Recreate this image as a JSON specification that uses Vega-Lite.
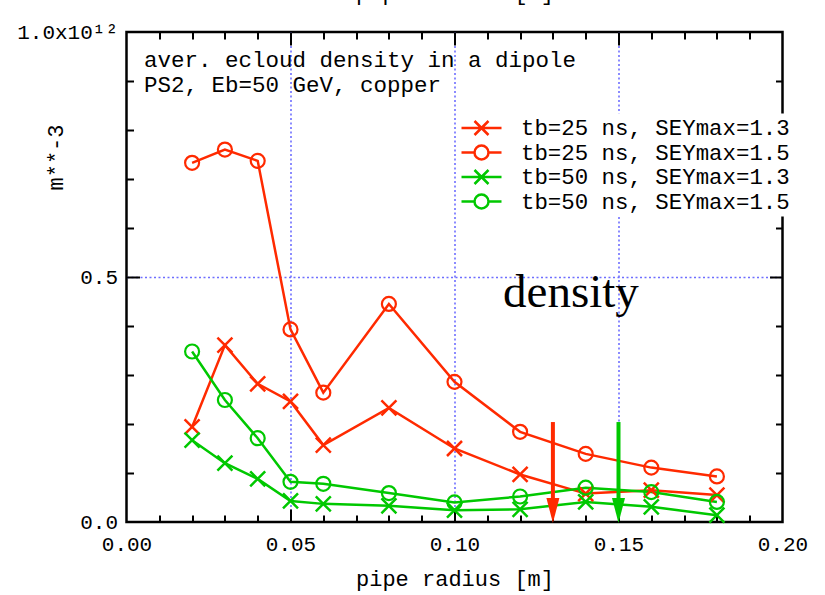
{
  "$schema": "https://vega.github.io/schema/vega-lite/v6.json",
  "autosize": "none",
  "padding": {"left": 126.5, "top": 32, "right": 42.5, "bottom": 73},
  "width": 656,
  "height": 490,
  "background": "white",
  "config": {
    "view": {"stroke": "black", "strokeWidth": 2.5},
    "axis": {
      "domain": false,
      "labelFont": "Liberation Mono",
      "labelFontSize": 21,
      "labelColor": "black",
      "titleFont": "Liberation Mono",
      "titleFontSize": 22,
      "titleFontWeight": "normal",
      "titleColor": "black",
      "tickColor": "black",
      "tickWidth": 2,
      "gridColor": "#6e6eff",
      "gridDash": [2, 2.5],
      "gridWidth": 1.6,
      "grid": false,
      "labels": false,
      "labelOverlap": false,
      "labelFlush": false
    }
  },
  "datasets": {
    "main": [
      {"r": 0.02, "n": 0.194, "s": "tb=25 ns, SEYmax=1.3"},
      {"r": 0.03, "n": 0.361, "s": "tb=25 ns, SEYmax=1.3"},
      {"r": 0.04, "n": 0.282, "s": "tb=25 ns, SEYmax=1.3"},
      {"r": 0.05, "n": 0.246, "s": "tb=25 ns, SEYmax=1.3"},
      {"r": 0.06, "n": 0.157, "s": "tb=25 ns, SEYmax=1.3"},
      {"r": 0.08, "n": 0.233, "s": "tb=25 ns, SEYmax=1.3"},
      {"r": 0.10, "n": 0.150, "s": "tb=25 ns, SEYmax=1.3"},
      {"r": 0.12, "n": 0.097, "s": "tb=25 ns, SEYmax=1.3"},
      {"r": 0.14, "n": 0.058, "s": "tb=25 ns, SEYmax=1.3"},
      {"r": 0.16, "n": 0.065, "s": "tb=25 ns, SEYmax=1.3"},
      {"r": 0.18, "n": 0.055, "s": "tb=25 ns, SEYmax=1.3"},
      {"r": 0.02, "n": 0.733, "s": "tb=25 ns, SEYmax=1.5"},
      {"r": 0.03, "n": 0.760, "s": "tb=25 ns, SEYmax=1.5"},
      {"r": 0.04, "n": 0.737, "s": "tb=25 ns, SEYmax=1.5"},
      {"r": 0.05, "n": 0.393, "s": "tb=25 ns, SEYmax=1.5"},
      {"r": 0.06, "n": 0.264, "s": "tb=25 ns, SEYmax=1.5"},
      {"r": 0.08, "n": 0.445, "s": "tb=25 ns, SEYmax=1.5"},
      {"r": 0.10, "n": 0.286, "s": "tb=25 ns, SEYmax=1.5"},
      {"r": 0.12, "n": 0.184, "s": "tb=25 ns, SEYmax=1.5"},
      {"r": 0.14, "n": 0.139, "s": "tb=25 ns, SEYmax=1.5"},
      {"r": 0.16, "n": 0.111, "s": "tb=25 ns, SEYmax=1.5"},
      {"r": 0.18, "n": 0.093, "s": "tb=25 ns, SEYmax=1.5"},
      {"r": 0.02, "n": 0.167, "s": "tb=50 ns, SEYmax=1.3"},
      {"r": 0.03, "n": 0.120, "s": "tb=50 ns, SEYmax=1.3"},
      {"r": 0.04, "n": 0.088, "s": "tb=50 ns, SEYmax=1.3"},
      {"r": 0.05, "n": 0.043, "s": "tb=50 ns, SEYmax=1.3"},
      {"r": 0.06, "n": 0.037, "s": "tb=50 ns, SEYmax=1.3"},
      {"r": 0.08, "n": 0.033, "s": "tb=50 ns, SEYmax=1.3"},
      {"r": 0.10, "n": 0.024, "s": "tb=50 ns, SEYmax=1.3"},
      {"r": 0.12, "n": 0.026, "s": "tb=50 ns, SEYmax=1.3"},
      {"r": 0.14, "n": 0.041, "s": "tb=50 ns, SEYmax=1.3"},
      {"r": 0.16, "n": 0.031, "s": "tb=50 ns, SEYmax=1.3"},
      {"r": 0.18, "n": 0.014, "s": "tb=50 ns, SEYmax=1.3"},
      {"r": 0.02, "n": 0.348, "s": "tb=50 ns, SEYmax=1.5"},
      {"r": 0.03, "n": 0.249, "s": "tb=50 ns, SEYmax=1.5"},
      {"r": 0.04, "n": 0.171, "s": "tb=50 ns, SEYmax=1.5"},
      {"r": 0.05, "n": 0.082, "s": "tb=50 ns, SEYmax=1.5"},
      {"r": 0.06, "n": 0.078, "s": "tb=50 ns, SEYmax=1.5"},
      {"r": 0.08, "n": 0.059, "s": "tb=50 ns, SEYmax=1.5"},
      {"r": 0.10, "n": 0.040, "s": "tb=50 ns, SEYmax=1.5"},
      {"r": 0.12, "n": 0.052, "s": "tb=50 ns, SEYmax=1.5"},
      {"r": 0.14, "n": 0.070, "s": "tb=50 ns, SEYmax=1.5"},
      {"r": 0.16, "n": 0.061, "s": "tb=50 ns, SEYmax=1.5"},
      {"r": 0.18, "n": 0.041, "s": "tb=50 ns, SEYmax=1.5"}
    ],
    "arrows": [
      {"r": 0.13, "top": 0.204, "bot": 0.048, "head": 0.0235, "c": "#ff2a00"},
      {"r": 0.15, "top": 0.204, "bot": 0.048, "head": 0.0235, "c": "#00c800"}
    ],
    "notes": [
      {"x": 0.00534, "y": 0.9286, "t": "aver. ecloud density in a dipole"},
      {"x": 0.00534, "y": 0.8776, "t": "PS2, Eb=50 GeV, copper"}
    ],
    "big": [
      {"x": 0.1355, "y": 0.439, "t": "density"}
    ]
  },
  "resolve": {"axis": {"x": "independent", "y": "independent"}},
  "layer": [
    {
      "data": {"name": "main"},
      "mark": {"type": "point", "size": 400, "filled": false, "strokeWidth": 2.5, "opacity": 0},
      "encoding": {
        "x": {"field": "r", "type": "quantitative", "scale": {"domain": [0, 0.2], "nice": false, "zero": false}, "axis": null},
        "y": {"field": "n", "type": "quantitative", "scale": {"domain": [0, 1], "nice": false}, "axis": null},
        "color": {"field": "s", "type": "nominal",
          "scale": {"domain": ["tb=25 ns, SEYmax=1.3", "tb=25 ns, SEYmax=1.5", "tb=50 ns, SEYmax=1.3", "tb=50 ns, SEYmax=1.5"], "range": ["#ff2a00", "#ff2a00", "#00c800", "#00c800"]},
          "legend": {"orient": "none", "legendX": 340.5, "legendY": 81.5, "title": null, "padding": 3, "fillColor": "white", "labelFont": "Liberation Mono", "labelFontSize": 22.4, "labelColor": "black", "labelOffset": 28, "symbolStrokeWidth": 2.5, "symbolSize": 400, "symbolOpacity": 1, "rowPadding": -0.5, "labelLimit": 400}},
        "shape": {"field": "s", "type": "nominal",
          "scale": {"domain": ["tb=25 ns, SEYmax=1.3", "tb=25 ns, SEYmax=1.5", "tb=50 ns, SEYmax=1.3", "tb=50 ns, SEYmax=1.5"],
            "range": ["M-2,0L2,0M-0.7,-0.7L0.7,0.7M-0.7,0.7L0.7,-0.7", "M-2,0L-0.7,0M0.7,0L2,0M-0.7,0A0.7,0.7 0 1,0 0.7,0A0.7,0.7 0 1,0 -0.7,0", "M-2,0L2,0M-0.7,-0.7L0.7,0.7M-0.7,0.7L0.7,-0.7", "M-2,0L-0.7,0M0.7,0L2,0M-0.7,0A0.7,0.7 0 1,0 0.7,0A0.7,0.7 0 1,0 -0.7,0"]},
          "legend": {"orient": "none", "legendX": 340.5, "legendY": 81.5, "title": null, "padding": 3, "fillColor": "white", "labelFont": "Liberation Mono", "labelFontSize": 22.4, "labelColor": "black", "labelOffset": 28, "symbolStrokeWidth": 2.5, "symbolSize": 400, "symbolOpacity": 1, "rowPadding": -0.5, "labelLimit": 400}}
      }
    },
    {
      "data": {"name": "big"},
      "mark": {"type": "text", "font": "Liberation Serif", "fontSize": 47, "align": "center", "baseline": "alphabetic", "color": "black"},
      "encoding": {
        "x": {"field": "x", "type": "quantitative", "scale": {"domain": [0, 0.2], "nice": false, "zero": false},
          "axis": {"orient": "bottom", "values": [0.05, 0.1, 0.15], "grid": true, "ticks": false, "labels": false, "title": null}},
        "y": {"field": "y", "type": "quantitative", "scale": {"domain": [0, 1], "nice": false},
          "axis": {"orient": "left", "values": [0.5], "grid": true, "ticks": false, "labels": false, "title": null}},
        "text": {"field": "t"}
      }
    },
    {
      "data": {"name": "main"},
      "mark": {"type": "line", "strokeWidth": 2.5},
      "encoding": {
        "x": {"field": "r", "type": "quantitative", "scale": {"domain": [0, 0.2], "nice": false, "zero": false},
          "axis": {"orient": "bottom", "values": [0, 0.05, 0.1, 0.15, 0.2], "format": ".2f", "labels": true, "labelPadding": 11, "grid": false, "ticks": false, "title": "pipe radius [m]", "titleY": 63, "titleBaseline": "alphabetic"}},
        "y": {"field": "n", "type": "quantitative", "scale": {"domain": [0, 1], "nice": false},
          "axis": {"orient": "left", "values": [0, 0.5, 1], "labels": true, "labelExpr": "datum.value == 1 ? '1.0x10¹²' : format(datum.value, '.1f')", "labelPadding": 9, "grid": false, "ticks": false, "title": "m**-3", "titleX": -71.5, "titleY": 125, "titleAngle": -90, "titleAlign": "center", "titleBaseline": "middle"}},
        "color": {"field": "s", "type": "nominal", "legend": null},
        "detail": {"field": "s"}
      }
    },
    {
      "data": {"name": "main"},
      "transform": [{"filter": "indexof(datum.s, '1.3') >= 0"}],
      "mark": {"type": "point", "shape": "M-1,-1L1,1M-1,1L1,-1", "size": 225, "strokeWidth": 2.5, "filled": false, "opacity": 1},
      "encoding": {
        "x": {"field": "r", "type": "quantitative", "scale": {"domain": [0, 0.2], "nice": false, "zero": false},
          "axis": {"orient": "bottom", "values": [0.05, 0.1, 0.15], "ticks": true, "tickSize": -13, "labels": false, "grid": false, "title": null}},
        "y": {"field": "n", "type": "quantitative", "scale": {"domain": [0, 1], "nice": false},
          "axis": {"orient": "left", "values": [0.5], "ticks": true, "tickSize": -13, "labels": false, "grid": false, "title": null}},
        "color": {"field": "s", "type": "nominal", "legend": null}
      }
    },
    {
      "data": {"name": "main"},
      "transform": [{"filter": "indexof(datum.s, '1.5') >= 0"}],
      "mark": {"type": "point", "shape": "circle", "size": 196, "strokeWidth": 2.2, "filled": false, "opacity": 1},
      "encoding": {
        "x": {"field": "r", "type": "quantitative", "scale": {"domain": [0, 0.2], "nice": false, "zero": false},
          "axis": {"orient": "bottom", "values": [0.01, 0.02, 0.03, 0.04, 0.06, 0.07, 0.08, 0.09, 0.11, 0.12, 0.13, 0.14, 0.16, 0.17, 0.18, 0.19], "ticks": true, "tickSize": -7, "labels": false, "grid": false, "title": null}},
        "y": {"field": "n", "type": "quantitative", "scale": {"domain": [0, 1], "nice": false},
          "axis": {"orient": "left", "values": [0.1, 0.2, 0.3, 0.4, 0.6, 0.7, 0.8, 0.9], "ticks": true, "tickSize": -7, "labels": false, "grid": false, "title": null}},
        "color": {"field": "s", "type": "nominal", "legend": null}
      }
    },
    {
      "data": {"name": "arrows"},
      "mark": {"type": "rule", "strokeWidth": 4},
      "encoding": {
        "x": {"field": "r", "type": "quantitative", "scale": {"domain": [0, 0.2], "nice": false, "zero": false},
          "axis": {"orient": "top", "values": [0.05, 0.1, 0.15], "ticks": true, "tickSize": -13, "labels": false, "grid": false, "title": null}},
        "y": {"field": "top", "type": "quantitative", "scale": {"domain": [0, 1], "nice": false},
          "axis": {"orient": "right", "values": [0.5], "ticks": true, "tickSize": -13, "labels": false, "grid": false, "title": null}},
        "y2": {"field": "bot"},
        "stroke": {"field": "c", "type": "nominal", "scale": null}
      }
    },
    {
      "data": {"name": "arrows"},
      "mark": {"type": "point", "shape": "M-0.52,-1L0.52,-1L0,1Z", "size": 625, "filled": true, "opacity": 1, "strokeWidth": 0},
      "encoding": {
        "x": {"field": "r", "type": "quantitative", "scale": {"domain": [0, 0.2], "nice": false, "zero": false},
          "axis": {"orient": "top", "values": [0.01, 0.02, 0.03, 0.04, 0.06, 0.07, 0.08, 0.09, 0.11, 0.12, 0.13, 0.14, 0.16, 0.17, 0.18, 0.19], "ticks": true, "tickSize": -7, "labels": false, "grid": false, "title": null}},
        "y": {"field": "head", "type": "quantitative", "scale": {"domain": [0, 1], "nice": false},
          "axis": {"orient": "right", "values": [0.1, 0.2, 0.3, 0.4, 0.6, 0.7, 0.8, 0.9], "ticks": true, "tickSize": -7, "labels": false, "grid": false, "title": null}},
        "fill": {"field": "c", "type": "nominal", "scale": null}
      }
    },
    {
      "data": {"name": "notes"},
      "mark": {"type": "text", "font": "Liberation Mono", "fontSize": 22.5, "align": "left", "baseline": "alphabetic", "color": "black"},
      "encoding": {
        "x": {"field": "x", "type": "quantitative", "scale": {"domain": [0, 0.2], "nice": false, "zero": false},
          "axis": {"orient": "top", "values": [0.1], "ticks": false, "labels": false, "grid": false, "title": "pipe radius [m]", "titleY": -28, "titleBaseline": "bottom"}},
        "y": {"field": "y", "type": "quantitative", "scale": {"domain": [0, 1], "nice": false}, "axis": null},
        "text": {"field": "t"}
      }
    }
  ]
}
